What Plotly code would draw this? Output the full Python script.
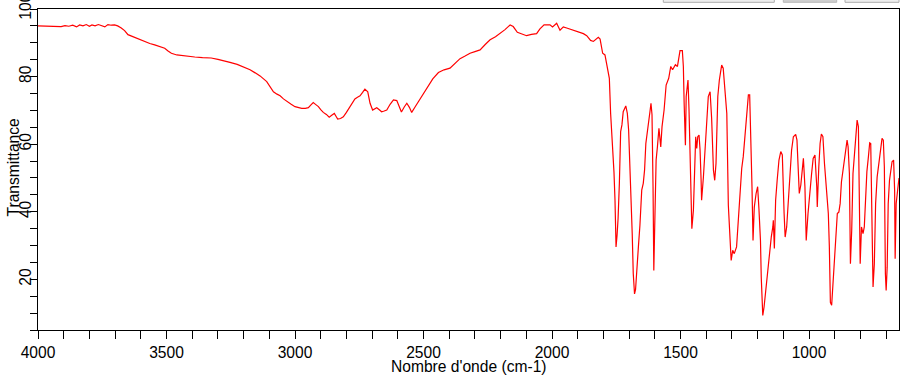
import plotly.graph_objects as go

# Wavenumber (cm-1) and transmittance (%)
wavenumber = [
    4000, 3975, 3950, 3930, 3910, 3895, 3880, 3865, 3850, 3838, 3825, 3812, 3800, 3790, 3778,
    3765, 3752, 3740, 3728, 3715, 3702, 3690, 3676, 3663, 3650, 3637, 3624, 3605, 3585, 3565,
    3546, 3527, 3507, 3494, 3481, 3460, 3442, 3415, 3390, 3360, 3326, 3300, 3274, 3253, 3225,
    3200, 3175, 3155, 3136, 3110, 3096, 3084, 3070, 3058, 3045, 3032, 3015, 3000, 2985, 2974,
    2960, 2948, 2938, 2929, 2919, 2909, 2900, 2890, 2878, 2867, 2856, 2847, 2840, 2834, 2823,
    2812, 2800, 2786, 2776, 2767, 2757, 2747, 2737, 2728, 2717, 2708, 2698, 2690, 2682, 2672,
    2663, 2653, 2643, 2630, 2617, 2604, 2595, 2586, 2575, 2565, 2555, 2546, 2533, 2520, 2500,
    2481, 2464, 2442, 2420, 2397, 2380, 2358, 2340, 2319, 2300, 2280, 2260, 2241, 2220, 2202,
    2183, 2163, 2151, 2135, 2117, 2099, 2080, 2060, 2047, 2031, 2020, 2008, 1998, 1982, 1969,
    1956, 1940, 1917, 1898, 1878, 1865, 1850, 1839, 1820, 1813, 1803, 1794, 1785, 1777, 1772,
    1764, 1759, 1755, 1751, 1747, 1743, 1738, 1733, 1728, 1723, 1713, 1707, 1702, 1697, 1692,
    1688, 1684, 1679, 1675, 1671, 1664, 1658, 1651, 1645, 1640, 1635, 1625, 1619, 1615, 1611,
    1607, 1604, 1600, 1595, 1590, 1584, 1577, 1572, 1564, 1556, 1546, 1538, 1531, 1520, 1512,
    1502, 1493, 1489, 1486, 1481, 1478, 1471, 1467, 1461, 1456, 1450, 1445, 1441, 1437, 1433,
    1428, 1424, 1420, 1418, 1411, 1404, 1398, 1392, 1385, 1379, 1372, 1367, 1362, 1355, 1349,
    1340, 1334, 1327, 1320, 1314, 1307, 1303, 1297, 1291, 1282, 1276, 1269, 1262, 1256, 1249,
    1243, 1236, 1231, 1226, 1222, 1218, 1213, 1206, 1200, 1195, 1189, 1186, 1180, 1175, 1170,
    1165, 1158, 1152, 1147, 1141, 1139, 1135, 1130, 1124, 1117, 1110, 1104, 1097, 1093, 1087,
    1081, 1074, 1068, 1061, 1052, 1047, 1042, 1038, 1032, 1027, 1022, 1016, 1011, 1004, 997,
    990, 984, 977, 970, 968, 962, 957, 952, 946, 940, 931, 925, 921, 917, 912,
    906, 901, 895, 890, 884, 879, 874, 868, 862, 857, 852, 848, 843, 839, 834,
    829, 822, 817, 813, 808, 804, 801, 796, 790, 785, 780, 775, 769, 764, 760,
    755, 751, 746, 741, 735, 729, 722, 716, 711, 707, 703, 700, 696, 692, 687,
    682, 677, 671, 667, 665, 661, 656, 651, 650,
]
transmittance = [
    95.0, 95.0, 94.9, 95.0, 94.8, 95.1, 94.9, 95.2, 94.7, 95.3, 95.0, 95.4, 94.9, 95.3, 95.0,
    95.4, 95.1, 94.7, 95.4, 95.2, 95.3, 95.0, 94.4, 93.6, 92.4, 92.0, 91.4, 90.8, 90.2, 89.8,
    89.4, 88.9, 88.4, 87.6, 86.9, 86.4, 86.2, 85.9, 85.8, 85.6, 85.5, 85.1, 84.7, 84.2, 83.6,
    82.9, 82.0, 81.1, 80.2, 78.5, 77.0, 75.5, 74.8, 74.3, 73.4, 72.6, 71.8, 71.1, 70.8, 70.6,
    70.6, 70.8, 71.6, 72.3, 71.7, 71.1, 70.2, 69.4, 68.8, 68.0, 68.6, 69.1, 68.2, 67.4, 67.6,
    68.1, 69.4, 71.1, 72.5, 73.4, 73.9, 74.3, 75.3, 76.3, 75.5, 72.1, 70.1, 70.4, 70.8, 70.2,
    69.6, 69.8, 70.1, 71.8, 73.1, 72.9, 71.0, 69.5, 71.0, 72.1, 70.9, 69.4, 71.0, 72.6, 75.0,
    77.5, 79.3, 81.2, 82.0, 82.5, 83.6, 85.3, 86.0, 86.9, 87.4, 87.9, 89.5, 90.9, 91.8, 92.7,
    93.9, 95.3, 94.8, 93.1, 92.6, 92.1, 92.5, 92.7, 94.1, 95.3, 95.3, 95.3, 94.7, 95.8, 93.7,
    94.7, 94.3, 93.7, 93.2, 92.7, 92.1, 90.7, 90.4, 91.6, 91.1, 86.9, 86.4, 83.0, 79.5, 69.1,
    59.2, 51.8, 43.4, 29.6, 33.0, 38.0, 48.4, 63.7, 65.7, 69.6, 71.3, 69.1, 64.2, 54.8, 42.4,
    33.5, 21.7, 15.7, 17.0, 20.7, 29.6, 36.0, 46.4, 48.4, 52.3, 60.2, 65.2, 69.6, 72.1, 68.7,
    47.4, 22.6, 37.5, 55.3, 59.2, 64.7, 59.2, 65.2, 70.1, 77.5, 79.5, 83.0, 82.0, 83.5, 83.0,
    87.7, 87.7, 83.0, 72.1, 59.7, 74.1, 79.0, 70.1, 46.4, 35.0, 40.4, 55.3, 62.2, 58.7, 62.2,
    62.7, 58.2, 49.3, 43.4, 50.3, 60.2, 65.7, 74.1, 75.5, 67.6, 52.3, 49.3, 54.3, 74.1, 79.0,
    83.4, 82.5, 76.5, 69.1, 41.9, 30.6, 25.6, 28.6, 27.6, 29.6, 37.5, 45.9, 52.8, 56.3, 62.7,
    69.6, 74.6, 74.6, 61.7, 47.4, 31.5, 41.4, 45.4, 47.4, 40.9, 31.5, 20.7, 9.3, 11.8, 15.7,
    18.7, 23.6, 27.6, 32.5, 35.5, 37.5, 29.1, 43.4, 49.3, 55.3, 57.8, 56.8, 39.5, 32.5, 35.5,
    43.4, 53.3, 58.2, 62.2, 62.9, 61.2, 51.3, 45.4, 47.9, 52.3, 55.8, 47.4, 31.5, 39.5, 46.9,
    51.3, 55.8, 56.8, 47.4, 41.4, 53.3, 60.2, 63.0, 62.2, 54.3, 43.4, 39.5, 29.6, 13.2, 12.3,
    20.7, 27.6, 34.5, 39.5, 39.9, 42.4, 48.8, 52.3, 54.3, 57.3, 61.2, 59.2, 51.3, 24.6, 34.5,
    51.3, 59.2, 62.7, 67.1, 65.2, 38.5, 24.6, 35.5, 33.5, 35.5, 46.4, 51.8, 56.3, 60.4, 60.2,
    37.5, 17.7, 24.6, 42.4, 50.3, 54.3, 59.2, 61.7, 61.2, 53.3, 21.7, 16.7, 23.6, 42.4, 49.3,
    52.8, 54.8, 55.3, 46.4, 26.1, 42.4, 45.9, 49.3, 50.0,
]

x_title = "Nombre d'onde (cm-1)"
y_title = "Transmittance"

FONT = "Arial, 'Liberation Sans', sans-serif"
FS = 15.6

fig = go.Figure()
fig.add_trace(go.Scatter(
    x=wavenumber, y=transmittance, mode="lines",
    line=dict(color="#ff0000", width=1.2),
    hoverinfo="skip", showlegend=False,
))

W, H = 907, 381
L, R, T, B = 38, 8, 9, 51
pw, ph = W - L - R, H - T - B


def px_x(p):
    return (p - L) / pw


def px_y(p):
    return (H - B - p) / ph


# cut-off toolbar buttons at top right
shapes = []
for (x0, x1, fill, line) in [(663.3, 774.3, "#efefef", "#adadad"),
                             (783.3, 836.7, "#cfcfcf", "#b8b8b8"),
                             (845.0, 899.0, "#efefef", "#adadad")]:
    shapes.append(dict(type="rect", xref="paper", yref="paper",
                       x0=px_x(x0), x1=px_x(x1), y0=px_y(2.3), y1=px_y(-15),
                       fillcolor=fill, line=dict(color=line, width=1), layer="above"))

fig.update_layout(
    width=W, height=H,
    margin=dict(l=L, r=R, t=T, b=B, autoexpand=False),
    paper_bgcolor="white", plot_bgcolor="white",
    font=dict(family=FONT, size=FS, color="black"),
    shapes=shapes,
    annotations=[
        dict(text=x_title, xref="paper", yref="paper", x=0.5, y=px_y(367),
             xanchor="center", yanchor="middle", showarrow=False,
             font=dict(family=FONT, size=FS, color="black")),
        dict(text=y_title, xref="paper", yref="paper", x=px_x(12.5), y=px_y(168),
             xanchor="center", yanchor="middle", textangle=-90, showarrow=False,
             font=dict(family=FONT, size=FS, color="black")),
    ],
    xaxis=dict(
        range=[4000, 650], tick0=0, dtick=500, automargin=False,
        showline=True, mirror=True, linecolor="black", linewidth=1,
        ticks="outside", ticklen=8, tickcolor="black", tickwidth=1,
        showgrid=False, zeroline=False, ticklabeloverflow="allow",
        tickfont=dict(family=FONT, size=FS, color="black"),
        minor=dict(dtick=100, tick0=0, ticks="outside", ticklen=8,
                   tickcolor="black", tickwidth=1, showgrid=False),
    ),
    yaxis=dict(
        range=[5, 100], tick0=0, dtick=20, automargin=False,
        showline=True, mirror=True, linecolor="black", linewidth=1,
        ticks="outside", ticklen=7, tickcolor="black", tickwidth=1,
        showgrid=False, zeroline=False, tickangle=-90, ticklabelstandoff=-7,
        ticklabeloverflow="allow",
        tickfont=dict(family=FONT, size=FS, color="black"),
        minor=dict(dtick=5, tick0=0, ticks="outside", ticklen=7,
                   tickcolor="black", tickwidth=1, showgrid=False),
    ),
)

fig.write_html(
    "out.html",
    config={"displayModeBar": False, "staticPlot": True},
    post_script="document.body.style.margin='0px';document.body.style.overflow='hidden';",
)
